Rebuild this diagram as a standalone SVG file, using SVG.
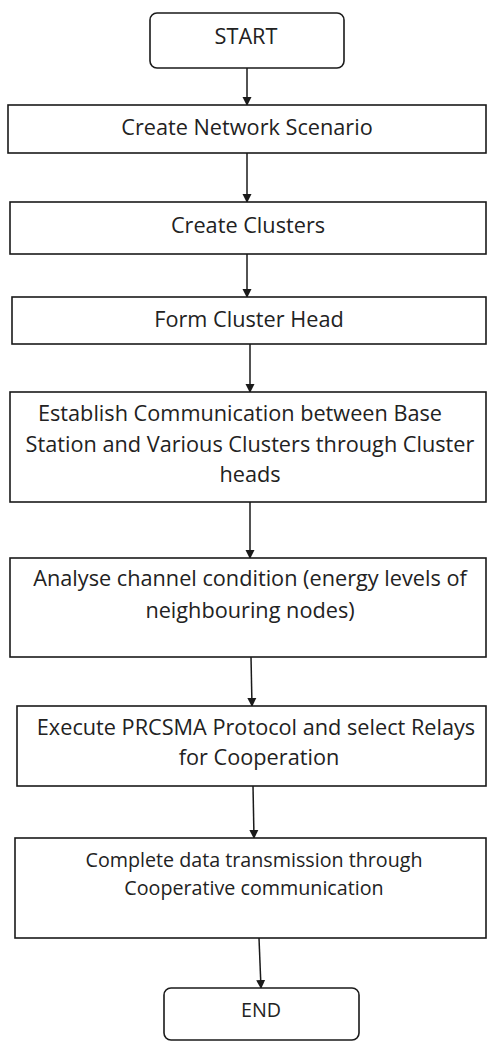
<svg xmlns="http://www.w3.org/2000/svg" width="487" height="1042" viewBox="0 0 487 1042">
<style>
  .box{fill:#fff;stroke:#1a1a1a;stroke-width:1.6}
  .t{font-family:"Open Sans","Noto Sans",sans-serif;font-size:21.7px;fill:#222;text-anchor:middle}
  .s{font-size:19.7px}
  .c{stroke:#1a1a1a;stroke-width:1.5;fill:none}
</style>
<defs>
  <marker id="ah" markerWidth="9" markerHeight="10" refX="8" refY="4.5" orient="auto" markerUnits="userSpaceOnUse" viewBox="0 0 9 9">
    <path d="M0,0 L9,4.5 L0,9 Z" fill="#1a1a1a"/>
  </marker>
</defs>
<rect width="487" height="1042" fill="#fff"/>
<g id="connectors">
  <line class="c" x1="247" y1="68" x2="247" y2="105" marker-end="url(#ah)"/>
  <line class="c" x1="247" y1="153" x2="247" y2="202" marker-end="url(#ah)"/>
  <line class="c" x1="247" y1="254" x2="247" y2="297" marker-end="url(#ah)"/>
  <line class="c" x1="250" y1="344" x2="250" y2="392" marker-end="url(#ah)"/>
  <line class="c" x1="250" y1="502" x2="250" y2="558" marker-end="url(#ah)"/>
  <line class="c" x1="251" y1="657" x2="252" y2="706" marker-end="url(#ah)"/>
  <line class="c" x1="253" y1="786" x2="254" y2="838" marker-end="url(#ah)"/>
  <line class="c" x1="259" y1="938" x2="261" y2="988" marker-end="url(#ah)"/>
</g>
<g id="start">
  <rect class="box" x="150" y="13" width="194" height="55" rx="7"/>
  <text class="t" x="246" y="44">START</text>
</g>
<g id="n1">
  <rect class="box" x="8" y="105" width="478" height="48"/>
  <text class="t" x="247" y="135">Create Network Scenario</text>
</g>
<g id="n2">
  <rect class="box" x="10" y="202" width="476" height="52"/>
  <text class="t" x="248" y="233">Create Clusters</text>
</g>
<g id="n3">
  <rect class="box" x="12" y="297" width="474" height="47"/>
  <text class="t" x="249" y="327">Form Cluster Head</text>
</g>
<g id="n4">
  <rect class="box" x="10" y="392" width="476" height="110"/>
  <text class="t" x="240" y="421">Establish Communication between Base</text>
  <text class="t" x="250" y="452">Station and Various Clusters through Cluster</text>
  <text class="t" x="250" y="482">heads</text>
</g>
<g id="n5">
  <rect class="box" x="10" y="558" width="476" height="99"/>
  <text class="t" x="250" y="586">Analyse channel condition (energy levels of</text>
  <text class="t" x="250" y="618">neighbouring nodes)</text>
</g>
<g id="n6">
  <rect class="box" x="17" y="706" width="469" height="80"/>
  <text class="t" x="256" y="735">Execute PRCSMA Protocol and select Relays</text>
  <text class="t" x="259" y="765">for Cooperation</text>
</g>
<g id="n7">
  <rect class="box" x="15" y="838" width="471" height="100"/>
  <text class="t s" x="254" y="867">Complete data transmission through</text>
  <text class="t s" x="254" y="895">Cooperative communication</text>
</g>
<g id="end">
  <rect class="box" x="164" y="988" width="195" height="52" rx="7"/>
  <text class="t s" x="261" y="1017">END</text>
</g>
</svg>
